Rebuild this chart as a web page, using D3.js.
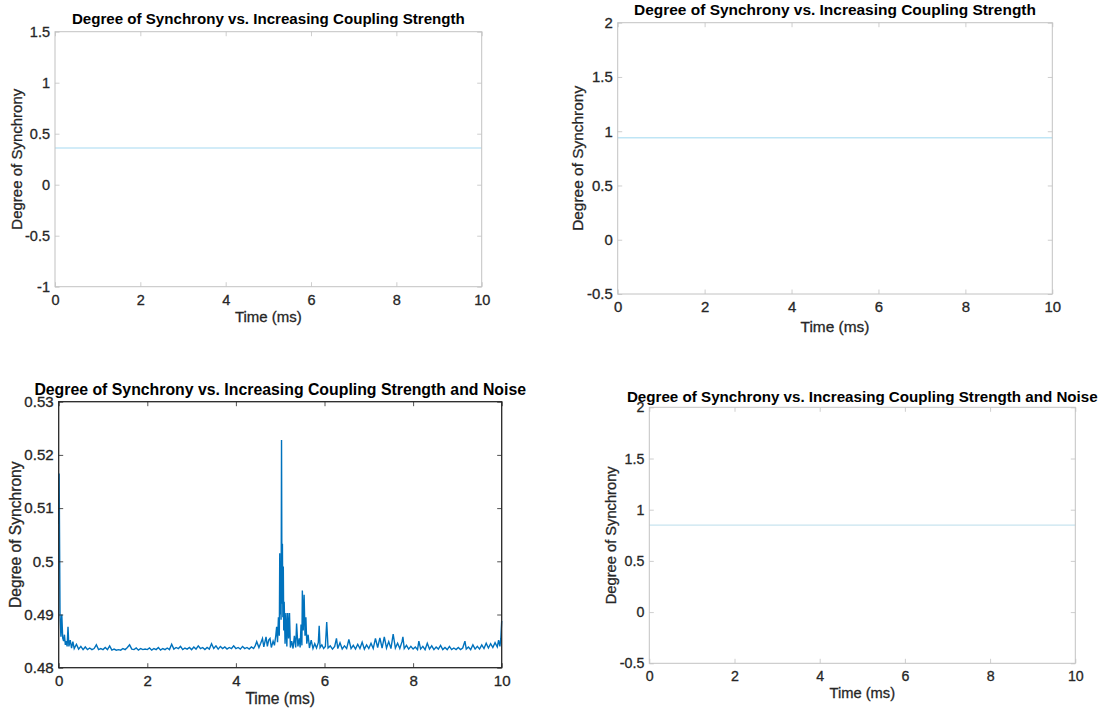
<!DOCTYPE html>
<html lang="en">
<head>
    <meta charset="UTF-8">
    <title>Degree of Synchrony</title>
    <script src="https://d3js.org/d3.v7.min.js"></script>
    <style>
        body { margin: 0; background: #fff; }
        svg { display: block; }
        text { font-family: "Liberation Sans", Arial, Helvetica, sans-serif; fill: #262626; stroke: #262626; stroke-width: 0.3px; }
        .title { font-weight: bold; fill: #000; stroke: none; }
    </style>
</head>
<body>
<div id="chart"></div>
<script>
    // ---- data ----
    const timeTicks = [0, 2, 4, 6, 8, 10];
    const timeRange = [0, 10];

    const couplingTicksA = [-1, -0.5, 0, 0.5, 1, 1.5];
    const couplingSyncA = [[0, 0.36], [10, 0.36]];

    const couplingTicksB = [-0.5, 0, 0.5, 1, 1.5, 2];
    const couplingSyncB = [[0, 0.94], [10, 0.94]];

    const noiseTicksA = [0.48, 0.49, 0.5, 0.51, 0.52, 0.53];
    // [time (ms), degree of synchrony]
    const noiseSyncA = [
        [0.00, 0.5070], [0.01, 0.5165], [0.03, 0.4900], [0.05, 0.4858], [0.07, 0.4900], [0.09, 0.4856],
        [0.11, 0.4850], [0.13, 0.4862], [0.15, 0.4843], [0.17, 0.4850], [0.19, 0.4840], [0.21, 0.4877],
        [0.23, 0.4840], [0.26, 0.4852], [0.29, 0.4837], [0.32, 0.4849], [0.35, 0.4836], [0.40, 0.4844],
        [0.45, 0.4835], [0.50, 0.4840], [0.55, 0.4834], [0.60, 0.4839], [0.65, 0.4834], [0.70, 0.4837],
        [0.75, 0.4834], [0.80, 0.4836], [0.85, 0.4843], [0.90, 0.4834], [0.95, 0.4836], [1.00, 0.4834],
        [1.05, 0.4838], [1.10, 0.4834], [1.15, 0.4841], [1.20, 0.4833], [1.25, 0.4835], [1.30, 0.4833],
        [1.35, 0.4834], [1.40, 0.4833], [1.45, 0.4836], [1.50, 0.4834], [1.55, 0.4838], [1.60, 0.4843],
        [1.65, 0.4835], [1.70, 0.4834], [1.75, 0.4837], [1.80, 0.4833], [1.85, 0.4836], [1.90, 0.4834],
        [1.95, 0.4835], [2.00, 0.4834], [2.05, 0.4837], [2.10, 0.4833], [2.15, 0.4836], [2.20, 0.4834],
        [2.25, 0.4838], [2.30, 0.4833], [2.35, 0.4836], [2.40, 0.4834], [2.45, 0.4837], [2.50, 0.4834],
        [2.55, 0.4844], [2.60, 0.4835], [2.65, 0.4838], [2.70, 0.4836], [2.75, 0.4840], [2.80, 0.4834],
        [2.85, 0.4837], [2.90, 0.4835], [2.95, 0.4838], [3.00, 0.4834], [3.05, 0.4839], [3.10, 0.4835],
        [3.15, 0.4841], [3.20, 0.4836], [3.25, 0.4838], [3.30, 0.4834], [3.35, 0.4838], [3.40, 0.4835],
        [3.45, 0.4845], [3.50, 0.4836], [3.55, 0.4841], [3.60, 0.4835], [3.65, 0.4840], [3.70, 0.4836],
        [3.75, 0.4839], [3.80, 0.4835], [3.85, 0.4838], [3.90, 0.4836], [3.95, 0.4841], [4.00, 0.4836],
        [4.05, 0.4838], [4.10, 0.4835], [4.15, 0.4840], [4.20, 0.4836], [4.25, 0.4838], [4.30, 0.4835],
        [4.35, 0.4839], [4.40, 0.4836], [4.44, 0.4842], [4.47, 0.4849], [4.52, 0.4838], [4.56, 0.4846],
        [4.60, 0.4855], [4.63, 0.4839], [4.68, 0.4858], [4.71, 0.4840], [4.74, 0.4852], [4.77, 0.4855],
        [4.80, 0.4838], [4.84, 0.4850], [4.87, 0.4842], [4.90, 0.4860], [4.92, 0.4877], [4.94, 0.4848],
        [4.96, 0.4895], [4.98, 0.4860], [4.99, 0.5015], [5.00, 0.4900], [5.01, 0.4980], [5.02, 0.4890],
        [5.03, 0.5228], [5.04, 0.4920], [5.05, 0.5033], [5.06, 0.4895], [5.07, 0.4990], [5.08, 0.4870],
        [5.09, 0.4924], [5.11, 0.4845], [5.13, 0.4903], [5.15, 0.4840], [5.17, 0.4903], [5.19, 0.4855],
        [5.21, 0.4903], [5.23, 0.4838], [5.26, 0.4850], [5.29, 0.4836], [5.32, 0.4860], [5.35, 0.4838],
        [5.37, 0.4883], [5.40, 0.4840], [5.43, 0.4855], [5.45, 0.4838], [5.47, 0.4881], [5.49, 0.4842],
        [5.50, 0.4945], [5.52, 0.4870], [5.54, 0.4937], [5.56, 0.4860], [5.58, 0.4895], [5.60, 0.4845],
        [5.63, 0.4862], [5.66, 0.4837], [5.70, 0.4852], [5.74, 0.4836], [5.78, 0.4845], [5.82, 0.4837],
        [5.86, 0.4847], [5.88, 0.4879], [5.90, 0.4838], [5.94, 0.4843], [5.98, 0.4836], [6.02, 0.4840],
        [6.05, 0.4886], [6.08, 0.4837], [6.13, 0.4841], [6.18, 0.4835], [6.23, 0.4840], [6.27, 0.4855],
        [6.30, 0.4836], [6.35, 0.4847], [6.40, 0.4835], [6.45, 0.4841], [6.50, 0.4836], [6.55, 0.4853],
        [6.60, 0.4836], [6.65, 0.4842], [6.70, 0.4835], [6.75, 0.4844], [6.80, 0.4836], [6.85, 0.4848],
        [6.90, 0.4835], [6.95, 0.4843], [7.00, 0.4836], [7.05, 0.4846], [7.10, 0.4836], [7.15, 0.4855],
        [7.20, 0.4838], [7.25, 0.4856], [7.30, 0.4837], [7.35, 0.4858], [7.40, 0.4837], [7.45, 0.4849],
        [7.50, 0.4836], [7.55, 0.4863], [7.60, 0.4837], [7.65, 0.4846], [7.70, 0.4836], [7.75, 0.4849],
        [7.77, 0.4858], [7.80, 0.4836], [7.85, 0.4842], [7.90, 0.4835], [7.95, 0.4840], [8.00, 0.4835],
        [8.05, 0.4839], [8.10, 0.4834], [8.13, 0.4850], [8.17, 0.4835], [8.22, 0.4840], [8.27, 0.4834],
        [8.32, 0.4846], [8.37, 0.4835], [8.42, 0.4841], [8.47, 0.4834], [8.52, 0.4839], [8.57, 0.4835],
        [8.62, 0.4842], [8.67, 0.4834], [8.72, 0.4838], [8.77, 0.4834], [8.82, 0.4840], [8.87, 0.4834],
        [8.92, 0.4837], [8.97, 0.4834], [9.02, 0.4838], [9.07, 0.4834], [9.12, 0.4837], [9.17, 0.4850],
        [9.20, 0.4835], [9.25, 0.4839], [9.30, 0.4834], [9.35, 0.4843], [9.40, 0.4835], [9.45, 0.4840],
        [9.50, 0.4835], [9.55, 0.4843], [9.60, 0.4836], [9.65, 0.4846], [9.70, 0.4837], [9.75, 0.4845],
        [9.80, 0.4838], [9.85, 0.4847], [9.90, 0.4839], [9.93, 0.4852], [9.96, 0.4840], [9.98, 0.4855],
        [10.00, 0.4888]
    ];

    const noiseTicksB = [-0.5, 0, 0.5, 1, 1.5, 2];
    const noiseSyncB = [[0, 0.85], [10, 0.85]];

    const titleCoupling = "Degree of Synchrony vs. Increasing Coupling Strength";
    const titleNoise = "Degree of Synchrony vs. Increasing Coupling Strength and Noise";

    // ---- layout ----
    const W = 1103, H = 711;
    const svg = d3.select("#chart").append("svg").attr("width", W).attr("height", H);

    const panels = [
        { title: titleCoupling, titleW: 393, titleGap: 7.7, left: 55, right: 481.7, top: 31.7, bottom: 286.7,
          yDomain: [-1, 1.5], yTicks: couplingTicksA, data: couplingSyncA, scale: 1.0,
          line: "#c3e6f6", lineW: 1.3, frame: "#c2c2c2", xLab: 35.6, yLab: 33 },
        { title: titleCoupling, titleW: 402, titleGap: 7.7, left: 617.7, right: 1052.3, top: 22.7, bottom: 294,
          yDomain: [-0.5, 2], yTicks: couplingTicksB, data: couplingSyncB, scale: 1.03,
          line: "#bfe5f5", lineW: 1.3, frame: "#c2c2c2", xLab: 37.7, yLab: 34.5 },
        { title: titleNoise, titleW: 492, titleGap: 6.7, left: 58.7, right: 501.7, top: 401.7, bottom: 667.7,
          yDomain: [0.48, 0.53], yTicks: noiseTicksA, data: noiseSyncA, scale: 1.04,
          line: "#0072bd", lineW: 1.4, frame: "#262626", xLab: 36.6, yLab: 38 },
        { title: titleNoise, titleW: 471, titleGap: 5.6, left: 649.3, right: 1075.3, top: 407.3, bottom: 663.3,
          yDomain: [-0.5, 2], yTicks: noiseTicksB, data: noiseSyncB, scale: 0.98,
          line: "#c8e4ef", lineW: 1.2, frame: "#c2c2c2", xLab: 34.4, yLab: 33.5 }
    ];

    const tickLen = 4.5;

    panels.forEach(p => {
        const x = d3.scaleLinear().domain(timeRange).range([p.left, p.right]);
        const y = d3.scaleLinear().domain(p.yDomain).range([p.bottom, p.top]);
        const tickFs = 14.5 * p.scale, labelFs = 15 * p.scale;
        const g = svg.append("g");

        // series
        g.append("path")
            .datum(p.data)
            .attr("fill", "none")
            .attr("stroke", p.line)
            .attr("stroke-width", p.lineW)
            .attr("stroke-linejoin", "miter")
            .attr("d", d3.line().x(d => x(d[0])).y(d => y(d[1])));

        // axes, ticks pointing inward on all four sides
        const styleAxis = sel => {
            sel.attr("font-family", null).attr("font-size", null);
            sel.select(".domain").remove();
            sel.selectAll(".tick line").attr("stroke", p.frame).attr("stroke-width", 0.8);
            sel.selectAll(".tick text").style("font-size", tickFs + "px").attr("fill", "#222");
        };

        g.append("g").attr("transform", `translate(0,${p.bottom})`)
            .call(d3.axisBottom(x).tickValues(timeTicks).tickFormat(d3.format("d"))
                .tickSizeInner(-tickLen).tickSizeOuter(0).tickPadding(18 - 0.71 * tickFs))
            .call(styleAxis);
        g.append("g").attr("transform", `translate(0,${p.top})`)
            .call(d3.axisTop(x).tickValues(timeTicks).tickFormat("").tickSizeInner(-tickLen).tickSizeOuter(0))
            .call(styleAxis);
        g.append("g").attr("transform", `translate(${p.left},0)`)
            .call(d3.axisLeft(y).tickValues(p.yTicks).tickFormat(d => String(+d.toFixed(3)))
                .tickSizeInner(-tickLen).tickSizeOuter(0).tickPadding(5))
            .call(styleAxis);
        g.append("g").attr("transform", `translate(${p.right},0)`)
            .call(d3.axisRight(y).tickValues(p.yTicks).tickFormat("").tickSizeInner(-tickLen).tickSizeOuter(0))
            .call(styleAxis);

        // box
        g.append("rect")
            .attr("x", p.left).attr("y", p.top)
            .attr("width", p.right - p.left).attr("height", p.bottom - p.top)
            .attr("fill", "none")
            .attr("stroke", p.frame)
            .attr("stroke-width", p.frame === "#262626" ? 1.3 : 1);

        // labels
        g.append("text")
            .attr("x", (p.left + p.right) / 2)
            .attr("y", p.bottom + p.xLab)
            .attr("text-anchor", "middle")
            .style("font-size", labelFs + "px")
            .text("Time (ms)");

        g.append("text")
            .attr("transform", `translate(${p.left - p.yLab},${(p.top + p.bottom) / 2}) rotate(-90)`)
            .attr("text-anchor", "middle")
            .style("font-size", labelFs + "px")
            .text("Degree of Synchrony");

        const t = g.append("text")
            .attr("class", "title")
            .attr("x", (p.left + p.right) / 2)
            .attr("y", p.top - p.titleGap)
            .attr("text-anchor", "middle")
            .style("font-size", "13px")
            .text(p.title);
        const w = t.node().getComputedTextLength();
        t.style("font-size", (13 * p.titleW / w).toFixed(2) + "px");
    });
</script>
</body>
</html>
